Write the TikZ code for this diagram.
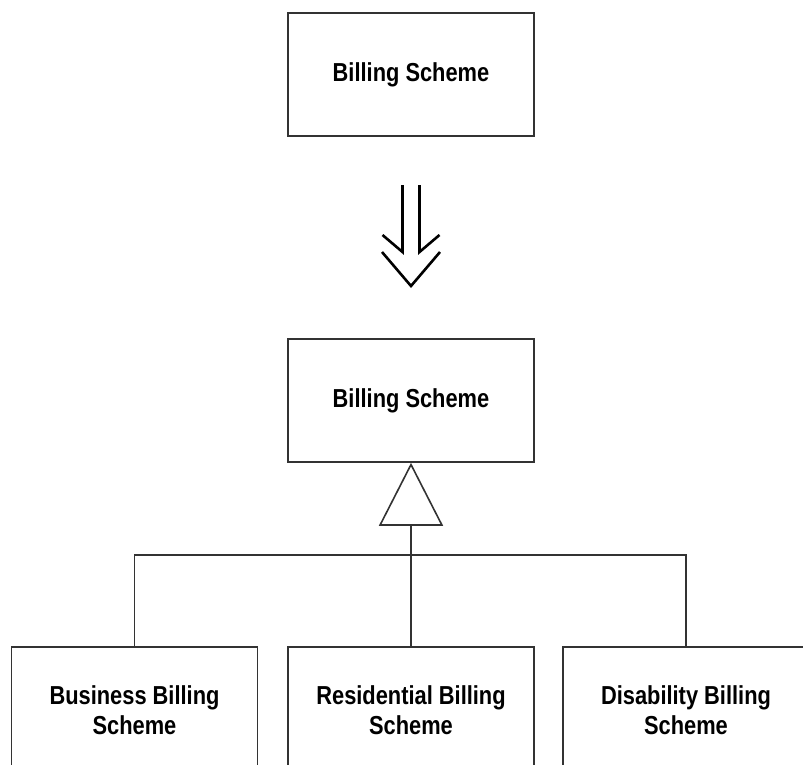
\documentclass[tikz,border=0pt]{standalone}
\usepackage{fontspec}
\setmainfont{Liberation Sans}[FakeStretch=0.84]
\usetikzlibrary{arrows.meta, positioning}
\tikzset{class/.style={draw=black!80, line width=1.6pt, minimum width=246pt, minimum height=123pt,
 align=center, font=\fontsize{26}{30}\selectfont\bfseries},
subclass/.style={class, minimum height=126pt},
link/.style={draw=black!80, line width=1.6pt},
refine/.style={line width=2.6pt, line join=miter},
}

\begin{document}
\begin{tikzpicture}[x=1pt, y=-1pt]
	\useasboundingbox (0,0) rectangle (803,765);
	\clip (0,0) rectangle (803,765);
	% before
	\node[class] (topscheme) at (411,74.5) {Billing Scheme};
	% refinement arrow
	\coordinate (arrowtop) at (411,185);
	\coordinate (arrowtip) at (411,286);
	\draw[refine] (arrowtop) ++(-8.5,0) -- ++(0,67) -- ++(-20,-17);
	\draw[refine] (arrowtop) ++(8.5,0) -- ++(0,67) -- ++(20,-17);
	\draw[refine] (arrowtip) ++(-29,-34) -- (arrowtip) -- ++(29,-34);
	% after
	\node[class] (midscheme) at (411,400.5) {Billing Scheme};
	\node[subclass] (business) at (134.5,710) {Business Billing\\Scheme};
	\node[subclass] (residential) at (411,710) {Residential Billing\\Scheme};
	\node[subclass] (disability) at (686,710) {Disability Billing\\Scheme};
	\coordinate (junction) at (411,555);
	\draw[link] (business.north) |- (junction) -| (disability.north);
	\draw[link, -{Triangle[open, length=63pt, width=64pt]}] (residential.north) -- (midscheme.south);
\end{tikzpicture}
\end{document}
